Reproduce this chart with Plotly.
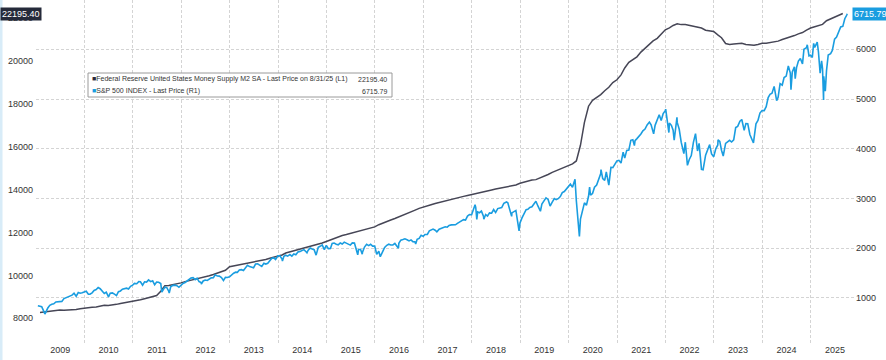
import pandas as pd
import plotly.graph_objects as go

# ---------------- data ----------------
m2_values = [
    8270, 8290, 8340, 8330, 8380, 8390, 8380, 8380, 8390, 8410, 8450, 8480,          # 2009
    8480, 8520, 8530, 8560, 8610, 8600, 8610, 8650, 8690, 8720, 8740, 8790,          # 2010
    8810, 8860, 8910, 8950, 9000, 9060, 9260, 9520, 9530, 9560, 9610, 9650,          # 2011
    9710, 9750, 9790, 9830, 9880, 9930, 9980, 10040, 10100, 10180, 10240, 10400,     # 2012
    10440, 10460, 10500, 10520, 10560, 10600, 10640, 10690, 10740, 10800, 10850, 10880,  # 2013
    10950, 11040, 11090, 11160, 11210, 11250, 11310, 11350, 11390, 11440, 11510, 11580,  # 2014
    11650, 11750, 11790, 11860, 11900, 11950, 12000, 12050, 12100, 12140, 12200, 12260,  # 2015
    12360, 12440, 12510, 12580, 12650, 12720, 12800, 12870, 12940, 13040, 13120, 13190,  # 2016
    13240, 13290, 13350, 13400, 13450, 13500, 13550, 13610, 13640, 13680, 13720, 13770,  # 2017
    13810, 13850, 13890, 13940, 13980, 14020, 14060, 14100, 14130, 14170, 14210, 14290,  # 2018
    14350, 14400, 14440, 14460, 14530, 14600, 14700, 14800, 14880, 14960, 15040, 15100,  # 2019
    15190, 15330, 16060, 17130, 17880, 18150, 18290, 18420, 18600, 18760, 18980, 19110,  # 2020
    19340, 19660, 19920, 20050, 20180, 20400, 20580, 20740, 20920, 21040, 21250, 21440,  # 2021
    21530, 21640, 21720, 21680, 21680, 21640, 21620, 21570, 21520, 21420, 21380, 21360,  # 2022
    21200, 21070, 20800, 20760, 20780, 20810, 20810, 20750, 20720, 20720, 20750, 20810,  # 2023
    20810, 20840, 20870, 20910, 20990, 21050, 21080, 21170, 21250, 21310, 21420, 21520,  # 2024
    21580, 21640, 21690, 21860, 21940, 22020, 22120, 22195.40,                           # 2025
]
m2_start = "2009-01-31"

sp_month_close = [
    825.88, 735.09, 797.87, 872.81, 919.14, 919.32, 987.48, 1020.62, 1057.08, 1036.19, 1095.63, 1115.10,
    1073.87, 1104.49, 1169.43, 1186.69, 1089.41, 1030.71, 1101.60, 1049.33, 1141.20, 1183.26, 1180.55, 1257.64,
    1286.12, 1327.22, 1325.83, 1363.61, 1345.20, 1320.64, 1292.28, 1218.89, 1131.42, 1253.30, 1246.96, 1257.60,
    1312.41, 1365.68, 1408.47, 1397.91, 1310.33, 1362.16, 1379.32, 1406.58, 1440.67, 1412.16, 1416.18, 1426.19,
    1498.11, 1514.68, 1569.19, 1597.57, 1630.74, 1606.28, 1685.73, 1632.97, 1681.55, 1756.54, 1805.81, 1848.36,
    1782.59, 1859.45, 1872.34, 1883.95, 1923.57, 1960.23, 1930.67, 2003.37, 1972.29, 2018.05, 2067.56, 2058.90,
    1994.99, 2104.50, 2067.89, 2085.51, 2107.39, 2063.11, 2103.84, 1972.18, 1920.03, 2079.36, 2080.41, 2043.94,
    1940.24, 1932.23, 2059.74, 2065.30, 2096.95, 2098.86, 2173.60, 2170.95, 2168.27, 2126.15, 2198.81, 2238.83,
    2278.87, 2363.64, 2362.72, 2384.20, 2411.80, 2423.41, 2470.30, 2471.65, 2519.36, 2575.26, 2647.58, 2673.61,
    2823.81, 2713.83, 2640.87, 2648.05, 2705.27, 2718.37, 2816.29, 2901.52, 2913.98, 2711.74, 2760.17, 2506.85,
    2704.10, 2784.49, 2834.40, 2945.83, 2752.06, 2941.76, 2980.38, 2926.46, 2976.74, 3037.56, 3140.98, 3230.78,
    3225.52, 2954.22, 2584.59, 2912.43, 3044.31, 3100.29, 3271.12, 3500.31, 3363.00, 3269.96, 3621.63, 3756.07,
    3714.24, 3811.15, 3972.89, 4181.17, 4204.11, 4297.50, 4395.26, 4522.68, 4307.54, 4605.38, 4567.00, 4766.18,
    4515.55, 4373.94, 4530.41, 4131.93, 4132.15, 3785.38, 4130.29, 3955.00, 3585.62, 3871.98, 4080.11, 3839.50,
    4076.60, 3970.15, 4109.31, 4169.48, 4179.83, 4450.38, 4588.96, 4507.66, 4288.05, 4193.80, 4567.80, 4769.83,
    4845.65, 5096.27, 5254.35, 5035.69, 5277.51, 5460.48, 5522.30, 5648.40, 5762.48, 5705.45, 6032.38, 5881.63,
    6040.53, 5954.50, 5611.85, 5569.06, 5911.69, 6204.95, 6339.39, 6460.26, 6688.46,
]
sp_start = "2009-01-31"

sp_extra_dates = [
    "2009-01-15", "2009-02-13", "2009-03-09", "2009-04-15", "2009-05-15", "2009-06-15", "2009-07-15",
    "2009-08-14", "2009-09-15", "2009-10-15", "2009-11-16", "2009-12-15",
    "2010-01-15", "2010-02-12", "2010-03-15", "2010-04-15", "2010-05-14", "2010-06-15", "2010-07-02",
    "2010-07-15", "2010-08-16", "2010-09-15", "2010-10-15", "2010-11-15", "2010-12-15",
    "2011-01-14", "2011-02-15", "2011-03-16", "2011-04-15", "2011-05-16", "2011-06-15", "2011-07-15",
    "2011-08-08", "2011-09-15", "2011-10-03", "2011-10-14", "2011-11-15", "2011-12-15",
    "2012-01-13", "2012-02-15", "2012-03-15", "2012-04-16", "2012-05-15", "2012-06-01", "2012-06-15",
    "2012-07-16", "2012-08-15", "2012-09-14", "2012-10-15", "2012-11-15", "2012-12-14",
    "2013-01-15", "2013-02-15", "2013-03-15", "2013-04-15", "2013-05-15", "2013-06-14", "2013-07-15",
    "2013-08-15", "2013-09-16", "2013-10-15", "2013-11-15", "2013-12-13",
    "2014-01-15", "2014-02-03", "2014-02-14", "2014-03-14", "2014-04-15", "2014-05-15", "2014-06-16",
    "2014-07-15", "2014-08-07", "2014-08-15", "2014-09-15", "2014-10-15", "2014-11-14", "2014-12-16",
    "2015-01-15", "2015-02-13", "2015-03-16", "2015-04-15", "2015-05-15", "2015-06-15", "2015-07-15",
    "2015-08-25", "2015-09-15", "2015-09-28", "2015-10-15", "2015-11-16", "2015-12-15",
    "2016-01-15", "2016-02-11", "2016-03-15", "2016-04-15", "2016-05-16", "2016-06-27", "2016-07-15",
    "2016-08-15", "2016-09-15", "2016-10-14", "2016-11-04", "2016-11-15", "2016-12-15",
    "2017-01-13", "2017-02-15", "2017-03-15", "2017-04-13", "2017-05-15", "2017-06-15", "2017-07-14",
    "2017-08-15", "2017-09-15", "2017-10-13", "2017-11-15", "2017-12-15",
    "2018-01-26", "2018-02-08", "2018-02-15", "2018-03-15", "2018-04-02", "2018-04-16", "2018-05-15",
    "2018-06-15", "2018-07-16", "2018-08-15", "2018-09-20", "2018-10-15", "2018-10-29", "2018-11-15",
    "2018-12-24",
    "2019-01-15", "2019-02-15", "2019-03-15", "2019-04-15", "2019-05-15", "2019-06-03", "2019-06-14",
    "2019-07-15", "2019-08-15", "2019-09-16", "2019-10-15", "2019-11-15", "2019-12-16",
    "2020-01-15", "2020-02-19", "2020-03-12", "2020-03-23", "2020-04-15", "2020-05-15", "2020-06-08",
    "2020-06-15", "2020-07-15", "2020-08-14", "2020-09-02", "2020-09-15", "2020-10-12", "2020-11-16",
    "2020-12-15",
    "2021-01-15", "2021-02-16", "2021-03-15", "2021-04-15", "2021-05-12", "2021-05-17", "2021-06-15",
    "2021-07-15", "2021-08-16", "2021-09-02", "2021-09-15", "2021-10-04", "2021-10-15", "2021-11-15",
    "2021-12-15",
    "2022-01-03", "2022-01-27", "2022-02-15", "2022-03-08", "2022-03-29", "2022-04-15", "2022-05-20",
    "2022-06-16", "2022-07-15", "2022-08-16", "2022-09-12", "2022-10-12", "2022-11-15", "2022-12-01",
    "2022-12-15",
    "2023-01-16", "2023-02-02", "2023-02-15", "2023-03-13", "2023-04-14", "2023-05-15", "2023-06-15",
    "2023-07-17", "2023-08-18", "2023-09-14", "2023-10-27", "2023-11-15", "2023-12-15",
    "2024-01-16", "2024-02-15", "2024-03-15", "2024-04-19", "2024-05-15", "2024-06-14", "2024-07-16",
    "2024-08-05", "2024-08-15", "2024-09-06", "2024-09-16", "2024-10-15", "2024-11-11", "2024-12-06",
    "2024-12-19",
    "2025-01-13", "2025-01-23", "2025-02-19", "2025-03-13", "2025-03-24", "2025-04-08", "2025-04-09",
    "2025-04-21", "2025-05-13", "2025-06-13", "2025-07-15", "2025-08-15", "2025-09-15", "2025-10-03",
]
sp_extra_values = [
    843, 826, 677, 852, 882, 923, 932,
    1004, 1052, 1096, 1109, 1107,
    1136, 1075, 1150, 1211, 1135, 1115, 1022,
    1096, 1079, 1126, 1176, 1197, 1235,
    1293, 1328, 1257, 1320, 1329, 1265, 1316,
    1119, 1209, 1099, 1224, 1258, 1215,
    1289, 1343, 1402, 1369, 1330, 1278, 1342,
    1353, 1405, 1465, 1440, 1353, 1413,
    1472, 1519, 1561, 1553, 1658, 1626, 1682,
    1661, 1697, 1698, 1798, 1775,
    1848, 1742, 1838, 1841, 1842, 1870, 1937,
    1973, 1910, 1955, 1984, 1862, 2039, 1973,
    1992, 2096, 2081, 2106, 2123, 2085, 2108,
    1868, 1979, 1882, 2024, 2053, 2043,
    1880, 1829, 2015, 2081, 2066, 2001, 2162,
    2190, 2147, 2133, 2085, 2180, 2262,
    2275, 2349, 2385, 2329, 2402, 2432, 2459,
    2464, 2500, 2553, 2565, 2675,
    2873, 2581, 2731, 2747, 2582, 2678, 2711,
    2779, 2798, 2819, 2931, 2750, 2641, 2730,
    2351,
    2610, 2775, 2822, 2905, 2850, 2744, 2887,
    3014, 2848, 2998, 2996, 3120, 3192,
    3289, 3386, 2481, 2237, 2783, 2863, 3232,
    3066, 3227, 3373, 3580, 3401, 3534, 3627,
    3695,
    3768, 3932, 3968, 4170, 4063, 4163, 4246,
    4360, 4479, 4537, 4480, 4300, 4471, 4683,
    4709,
    4797, 4326, 4471, 4171, 4632, 4392, 3901,
    3667, 3863, 4305, 4110, 3577, 3992, 4076,
    3896,
    3999, 4179, 4147, 3855, 4137, 4136, 4426,
    4554, 4370, 4505, 4117, 4502, 4719,
    4766, 5030, 5117, 4967, 5308, 5431, 5667,
    5186, 5543, 5408, 5633, 5815, 6001, 6090,
    5867,
    5836, 6119, 6144, 5522, 5768, 4982, 5457,
    5158, 5886, 5977, 6244, 6450, 6615, 6715.79,
]

y_left_ticks = [8000, 10000, 12000, 14000, 16000, 18000, 20000, 22000]
y_right_ticks = [1000, 2000, 3000, 4000, 5000, 6000, 7000]

m2_name = "Federal Reserve United States Money Supply M2 SA - Last Price on 8/31/25 (L1)"
sp_name = "S&P 500 INDEX - Last Price (R1)"
m2_last = m2_values[-1]
sp_last = sp_extra_values[-1]

# ---------------- build series ----------------
m2_dates = pd.date_range(m2_start, periods=len(m2_values), freq="ME")
sp_m_dates = pd.date_range(sp_start, periods=len(sp_month_close), freq="ME")
sp = pd.concat([
    pd.Series(sp_month_close, index=sp_m_dates),
    pd.Series(sp_extra_values, index=pd.to_datetime(sp_extra_dates)),
]).sort_index()
sp = sp[~sp.index.duplicated(keep="last")]

M2_COLOR = "#464656"
SP_COLOR = "#1a9de0"
TXT = "#333333"

fig = go.Figure()
fig.add_trace(go.Scatter(x=m2_dates, y=m2_values, mode="lines", name=m2_name,
                         line=dict(color=M2_COLOR, width=1.5), yaxis="y"))
fig.add_trace(go.Scatter(x=sp.index, y=sp.values, mode="lines", name=sp_name,
                         line=dict(color=SP_COLOR, width=1.6), yaxis="y2"))

W, H = 886, 360
ML, MR, MT, MB = 36, 31, 0, 17
pw, ph = W - ML - MR, H - MT - MB

def px_x(p):
    return (p - ML) / pw

def px_y(p):
    return 1 - (p - MT) / ph

fig.update_layout(
    width=W, height=H,
    margin=dict(l=ML, r=MR, t=MT, b=MB, autoexpand=False),
    paper_bgcolor="white", plot_bgcolor="white",
    showlegend=False,
    font=dict(family="Liberation Sans, Arial, sans-serif", size=9, color=TXT),
    xaxis=dict(
        type="date", range=["2009-01-01", "2025-12-01"],
        tick0="2009-01-01", dtick="M12", tickformat="%Y", ticklabelmode="period",
        showgrid=True, gridcolor="#d4d4d4", griddash="3px,2px", gridwidth=1,
        showline=False, zeroline=False, ticks="", tickfont=dict(size=9, color=TXT),
        automargin=False,
    ),
    yaxis=dict(
        range=[6850, 22827], tickvals=y_left_ticks, ticktext=[str(v) for v in y_left_ticks],
        showgrid=False, zeroline=False, showline=False, ticks="",
        tickfont=dict(size=9, color=TXT), automargin=False, ticklabelstandoff=2,
    ),
    yaxis2=dict(
        range=[95, 6991], tickvals=y_right_ticks, ticktext=[str(v) for v in y_right_ticks],
        overlaying="y", side="right",
        showgrid=True, gridcolor="#d4d4d4", griddash="3px,2px", gridwidth=1,
        zeroline=False, showline=False, ticks="", tickfont=dict(size=9, color=TXT),
        automargin=False,
    ),
)

# legend box
box_l, box_r, box_t, box_b = 88, 392, 73, 97
fig.add_shape(type="rect", xref="paper", yref="paper",
              x0=px_x(box_l), x1=px_x(box_r), y0=px_y(box_b), y1=px_y(box_t),
              fillcolor="white", line=dict(color="#9a9a9a", width=1), layer="above")

fs = 7
fig.add_annotation(xref="paper", yref="paper", x=px_x(box_l + 2), y=px_y(79),
                   xanchor="left", yanchor="middle", showarrow=False,
                   text=f"<span style='color:#2b2b3a'>■</span>{m2_name}",
                   font=dict(size=fs, color=TXT))
fig.add_annotation(xref="paper", yref="paper", x=px_x(box_r - 3), y=px_y(79),
                   xanchor="right", yanchor="middle", showarrow=False,
                   text=f"{m2_last:.2f}", font=dict(size=fs, color=TXT))
fig.add_annotation(xref="paper", yref="paper", x=px_x(box_l + 2), y=px_y(91),
                   xanchor="left", yanchor="middle", showarrow=False,
                   text=f"<span style='color:{SP_COLOR}'>■</span>{sp_name}",
                   font=dict(size=fs, color=TXT))
fig.add_annotation(xref="paper", yref="paper", x=px_x(box_r - 3), y=px_y(91),
                   xanchor="right", yanchor="middle", showarrow=False,
                   text=f"{sp_last:.2f}", font=dict(size=fs, color=TXT))

# last value tags
fig.add_annotation(xref="paper", yref="y", x=px_x(0), y=m2_last,
                   xanchor="left", yanchor="middle", showarrow=False,
                   text=f"{m2_last:.2f}", font=dict(size=9, color="white"),
                   bgcolor="#252a3a", borderpad=1)
fig.add_annotation(xref="paper", yref="y2", x=px_x(852), y=sp_last,
                   xanchor="left", yanchor="middle", showarrow=False,
                   text=f"{sp_last:.2f}", font=dict(size=9, color="white"),
                   bgcolor=SP_COLOR, borderpad=1)

# light left border
fig.add_shape(type="line", xref="paper", yref="paper",
              x0=px_x(1), x1=px_x(1), y0=px_y(H), y1=px_y(0),
              line=dict(color="#d8ecf8", width=3), layer="above")

fig.write_html("out.html", config={"displayModeBar": False},
               post_script="document.body.style.margin='0';document.body.style.overflow='hidden';")
